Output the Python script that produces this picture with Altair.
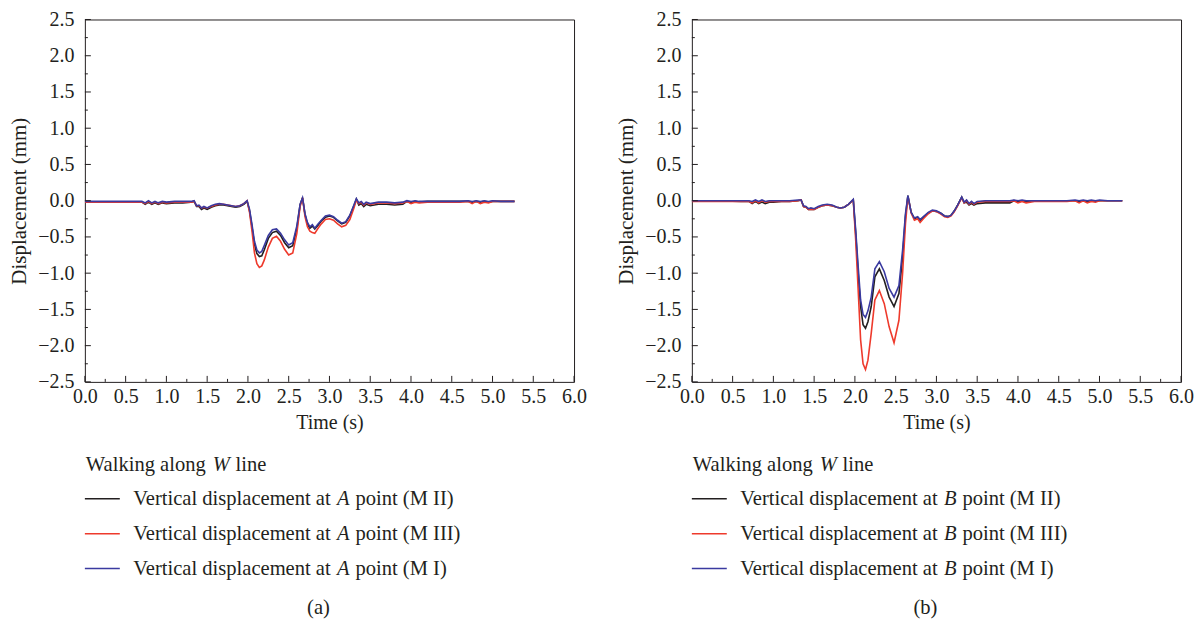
import altair as alt
import pandas as pd

# ---------------- data ----------------
TA = [0.00, 0.30, 0.60, 0.70, 0.74, 0.78, 0.82, 0.86, 0.90, 0.95, 1.00, 1.10, 1.20, 1.30,
      1.34, 1.37, 1.40, 1.43, 1.46, 1.50, 1.55, 1.60, 1.65, 1.70, 1.75, 1.80, 1.85, 1.90,
      1.95, 1.99, 2.02, 2.05, 2.08, 2.11, 2.14, 2.17, 2.20, 2.25, 2.30, 2.35, 2.40, 2.45,
      2.50, 2.55, 2.60, 2.64, 2.67, 2.70, 2.73, 2.76, 2.79, 2.82, 2.86, 2.90, 2.95, 3.00,
      3.05, 3.10, 3.15, 3.20, 3.25, 3.30, 3.33, 3.36, 3.39, 3.42, 3.45, 3.50, 3.60, 3.70,
      3.80, 3.90, 3.95, 4.00, 4.05, 4.10, 4.20, 4.40, 4.60, 4.70, 4.75, 4.80, 4.85, 4.90,
      4.95, 5.00, 5.10, 5.27]
A_MI = [-0.01, -0.01, -0.01, -0.01, -0.03, 0.00, -0.03, -0.01, -0.03, -0.01, -0.02, -0.01, -0.01, -0.01,
        0.00, -0.07, -0.06, -0.10, -0.08, -0.10, -0.07, -0.05, -0.04, -0.05, -0.06, -0.07, -0.08, -0.07,
        -0.04, 0.00, -0.12, -0.33, -0.56, -0.68, -0.72, -0.70, -0.62, -0.48, -0.40, -0.39, -0.45, -0.54,
        -0.61, -0.58, -0.35, -0.05, 0.04, -0.18, -0.30, -0.36, -0.33, -0.38, -0.32, -0.27, -0.21, -0.20,
        -0.22, -0.27, -0.31, -0.29, -0.20, -0.06, 0.03, -0.03, -0.01, -0.05, -0.02, -0.04, -0.02, -0.02,
        -0.03, -0.02, 0.00, -0.01, 0.00, -0.01, -0.01, -0.01, -0.01, 0.00, -0.01, 0.00, -0.01, 0.00,
        -0.01, 0.00, -0.01, -0.01]
A_MII = [-0.02, -0.02, -0.02, -0.02, -0.05, -0.02, -0.05, -0.03, -0.05, -0.03, -0.04, -0.03, -0.03, -0.02,
         -0.01, -0.08, -0.08, -0.12, -0.10, -0.12, -0.09, -0.07, -0.06, -0.06, -0.07, -0.08, -0.09, -0.08,
         -0.05, -0.01, -0.14, -0.36, -0.60, -0.73, -0.77, -0.76, -0.68, -0.52, -0.44, -0.42, -0.48, -0.58,
         -0.65, -0.62, -0.38, -0.06, 0.04, -0.19, -0.32, -0.38, -0.35, -0.39, -0.34, -0.28, -0.23, -0.21,
         -0.23, -0.28, -0.32, -0.30, -0.21, -0.07, 0.02, -0.06, -0.04, -0.08, -0.05, -0.07, -0.05, -0.05,
         -0.06, -0.05, -0.01, -0.03, -0.01, -0.02, -0.01, -0.01, -0.01, -0.01, -0.02, -0.01, -0.02, -0.01,
         -0.02, -0.01, -0.01, -0.01]
A_MIII = [-0.02, -0.02, -0.02, -0.02, -0.04, -0.01, -0.04, -0.02, -0.04, -0.02, -0.03, -0.02, -0.02, -0.02,
          -0.01, -0.07, -0.07, -0.10, -0.09, -0.10, -0.08, -0.06, -0.05, -0.05, -0.06, -0.07, -0.08, -0.07,
          -0.04, 0.00, -0.16, -0.42, -0.72, -0.87, -0.92, -0.90, -0.82, -0.64, -0.52, -0.49, -0.56, -0.67,
          -0.75, -0.72, -0.45, -0.08, 0.04, -0.22, -0.36, -0.42, -0.44, -0.45, -0.38, -0.32, -0.26, -0.25,
          -0.27, -0.32, -0.36, -0.34, -0.26, -0.10, 0.01, -0.04, -0.02, -0.06, -0.03, -0.05, -0.03, -0.03,
          -0.04, -0.03, -0.01, -0.04, -0.02, -0.03, -0.02, -0.02, -0.02, -0.01, -0.04, -0.01, -0.04, -0.02,
          -0.03, -0.01, -0.01, -0.01]

TB = [0.00, 0.30, 0.60, 0.70, 0.74, 0.78, 0.82, 0.86, 0.90, 0.95, 1.00, 1.10, 1.20, 1.30,
      1.34, 1.37, 1.40, 1.43, 1.46, 1.50, 1.55, 1.60, 1.66, 1.72, 1.78, 1.82, 1.87, 1.92,
      1.98, 2.01, 2.04, 2.07, 2.10, 2.13, 2.16, 2.20, 2.245, 2.30, 2.36, 2.42, 2.48, 2.54,
      2.585, 2.62, 2.65, 2.69, 2.73, 2.77, 2.80, 2.84, 2.90, 2.95, 3.00, 3.05, 3.10, 3.14,
      3.18, 3.22, 3.26, 3.31, 3.34, 3.37, 3.40, 3.43, 3.46, 3.50, 3.60, 3.70, 3.80, 3.90,
      3.95, 4.00, 4.05, 4.10, 4.20, 4.40, 4.60, 4.70, 4.75, 4.80, 4.85, 4.90, 4.95, 5.00,
      5.10, 5.28]
B_MI = [0.00, 0.00, 0.00, 0.00, -0.01, 0.01, -0.01, 0.01, -0.01, 0.00, 0.00, 0.00, 0.00, 0.01,
        0.01, -0.07, -0.08, -0.11, -0.10, -0.11, -0.08, -0.06, -0.05, -0.06, -0.09, -0.10, -0.09, -0.05,
        0.02, -0.41, -0.91, -1.37, -1.57, -1.61, -1.52, -1.33, -0.94, -0.84, -0.98, -1.21, -1.33, -1.17,
        -0.68, -0.18, 0.07, -0.16, -0.24, -0.22, -0.26, -0.22, -0.16, -0.13, -0.14, -0.17, -0.21, -0.22,
        -0.20, -0.14, -0.06, 0.05, -0.02, 0.01, -0.04, -0.01, -0.04, -0.01, 0.00, 0.00, 0.00, 0.00,
        0.01, 0.00, 0.01, 0.00, 0.00, 0.00, 0.00, 0.01, 0.00, 0.01, 0.00, 0.01, 0.00, 0.01,
        0.00, 0.00]
B_MII = [0.00, 0.00, -0.01, -0.01, -0.04, -0.01, -0.04, -0.02, -0.04, -0.02, -0.02, -0.01, -0.01, 0.00,
         0.01, -0.08, -0.09, -0.12, -0.12, -0.12, -0.09, -0.07, -0.06, -0.07, -0.09, -0.10, -0.09, -0.05,
         0.01, -0.46, -1.00, -1.46, -1.71, -1.76, -1.67, -1.46, -1.05, -0.94, -1.10, -1.33, -1.46, -1.28,
         -0.78, -0.22, 0.07, -0.16, -0.25, -0.23, -0.27, -0.23, -0.17, -0.14, -0.15, -0.17, -0.21, -0.22,
         -0.20, -0.14, -0.06, 0.05, -0.03, -0.02, -0.06, -0.04, -0.06, -0.04, -0.03, -0.03, -0.03, -0.03,
         0.00, -0.01, 0.00, -0.01, 0.00, 0.00, 0.00, 0.00, -0.01, 0.00, -0.01, 0.00, -0.01, 0.00,
         0.00, 0.00]
B_MIII = [-0.01, -0.01, -0.01, -0.01, -0.03, 0.00, -0.03, 0.00, -0.02, -0.01, -0.01, -0.01, -0.01, 0.00,
          0.01, -0.08, -0.09, -0.12, -0.12, -0.12, -0.09, -0.07, -0.06, -0.07, -0.09, -0.10, -0.09, -0.05,
          0.01, -0.55, -1.23, -1.92, -2.25, -2.33, -2.20, -1.83, -1.37, -1.24, -1.42, -1.74, -1.96, -1.65,
          -1.00, -0.32, 0.06, -0.17, -0.27, -0.25, -0.30, -0.25, -0.18, -0.14, -0.15, -0.18, -0.22, -0.23,
          -0.21, -0.15, -0.07, 0.04, -0.03, 0.00, -0.05, -0.02, -0.05, -0.02, -0.01, -0.01, -0.01, -0.01,
          0.00, -0.03, -0.01, -0.03, -0.01, -0.01, -0.01, 0.00, -0.03, 0.00, -0.03, -0.01, -0.02, 0.00,
          0.00, 0.00]

SERIES = ["M II", "M III", "M I"]
COLORS = ["#231f20", "#ee3a2c", "#3a3aa0"]

X_MAJOR = [0.0, 0.5, 1.0, 1.5, 2.0, 2.5, 3.0, 3.5, 4.0, 4.5, 5.0, 5.5, 6.0]
X_MINOR = [0.25, 0.75, 1.25, 1.75, 2.25, 2.75, 3.25, 3.75, 4.25, 4.75, 5.25, 5.75]
Y_MAJOR = [-2.5, -2.0, -1.5, -1.0, -0.5, 0.0, 0.5, 1.0, 1.5, 2.0, 2.5]
Y_MINOR = [-2.25, -1.75, -1.25, -0.75, -0.25, 0.25, 0.75, 1.25, 1.75, 2.25]

# ---------------- layout ----------------
W, H = 490, 363
FONT = "Liberation Serif"
FS = 20
LFS = 20.6
xscale = alt.Scale(domain=[0, 6], nice=False, zero=False)
yscale = alt.Scale(domain=[-2.5, 2.5], nice=False, zero=False)
XAX = alt.Axis(title="Time (s)", values=X_MAJOR, format=".1f", labelFlush=False,
               ticks=False, tickSize=0, domain=False, grid=False, labelPadding=5,
               titlePadding=6)
YAX = alt.Axis(title="Displacement (mm)", values=Y_MAJOR, format=".1f",
               ticks=False, tickSize=0, domain=False, grid=False, labelPadding=11,
               titlePadding=8, titleFontSize=21)


def txt(s, x, y, italic=False, align="left"):
    return alt.Chart(pd.DataFrame({"d": [0]})).mark_text(
        text=s, align=align, baseline="middle", font=FONT, fontSize=LFS,
        fontStyle="italic" if italic else "normal", color="#231f20"
    ).encode(x=alt.value(x), y=alt.value(y))


def panel(t, vals, letter, tag):
    layers = []
    for i, (name, col) in enumerate(zip(SERIES, COLORS)):
        df = pd.DataFrame({"t": t, "v": vals[i]})
        layers.append(
            alt.Chart(df).mark_line(color=col, strokeWidth=1.6, clip=True).encode(
                x=alt.X("t:Q", scale=xscale, axis=XAX),
                y=alt.Y("v:Q", scale=yscale, axis=YAX),
            )
        )
    # inward ticks
    layers.append(alt.Chart(pd.DataFrame({"t": X_MAJOR})).mark_rule(color="#231f20").encode(
        x=alt.X("t:Q", scale=xscale, axis=XAX), y=alt.value(H), y2=alt.value(H - 6)))
    layers.append(alt.Chart(pd.DataFrame({"t": X_MINOR})).mark_rule(color="#231f20").encode(
        x=alt.X("t:Q", scale=xscale, axis=XAX), y=alt.value(H), y2=alt.value(H - 3)))
    layers.append(alt.Chart(pd.DataFrame({"v": Y_MAJOR})).mark_rule(color="#231f20").encode(
        y=alt.Y("v:Q", scale=yscale, axis=YAX), x=alt.value(0), x2=alt.value(6)))
    layers.append(alt.Chart(pd.DataFrame({"v": Y_MINOR})).mark_rule(color="#231f20").encode(
        y=alt.Y("v:Q", scale=yscale, axis=YAX), x=alt.value(0), x2=alt.value(3)))

    # custom legend below the plot
    top = 18
    layers += [txt("Walking along", 1, 464 - top), txt("W", 128, 464 - top, italic=True),
               txt("line", 151, 464 - top)]
    rows = [498, 533, 568]
    for (name, col, ry) in zip(SERIES, COLORS, rows):
        y = ry - top
        layers.append(alt.Chart(pd.DataFrame({"d": [0]})).mark_rule(color=col, strokeWidth=1.5).encode(
            x=alt.value(0), x2=alt.value(35), y=alt.value(y)))
        layers += [txt("Vertical displacement at", 48.5, y), txt(letter, 252.5, y, italic=True),
                   txt("point (" + name + ")", 271, y)]
    layers.append(txt(tag, 234, 608 - top, align="center"))
    return alt.layer(*layers).properties(width=W, height=H)


left = panel(TA, [A_MII, A_MIII, A_MI], "A", "(a)")
right = panel(TB, [B_MII, B_MIII, B_MI], "B", "(b)")

chart = alt.hconcat(left, right, spacing=28).properties(
    padding=0, background="white"
).configure_view(stroke="#231f20", strokeWidth=1).configure_axis(
    labelFont=FONT, titleFont=FONT, labelFontSize=FS, titleFontSize=FS,
    labelColor="#231f20", titleColor="#231f20", titleFontWeight="normal"
)

chart.save("out.html", embed_options={"renderer": "svg", "actions": False})
